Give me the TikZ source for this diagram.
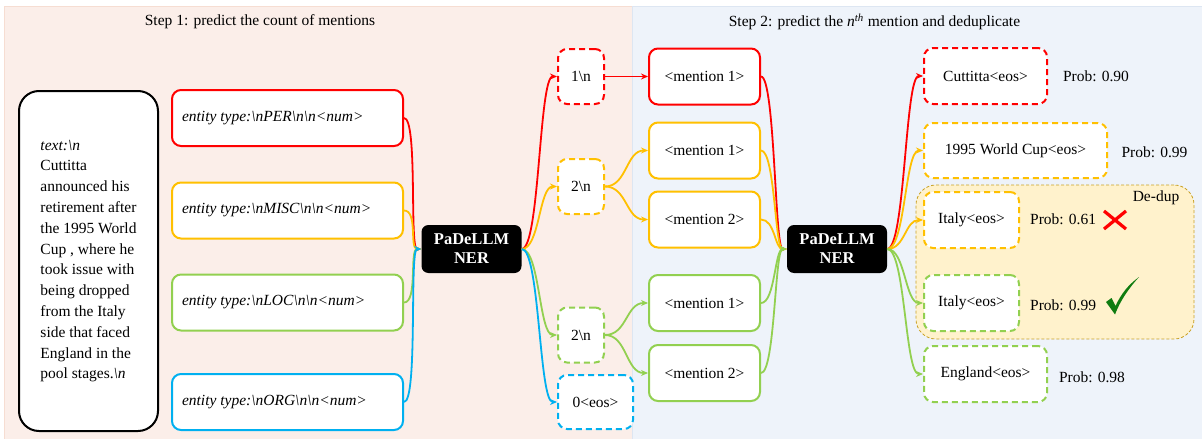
\documentclass[tikz,border=0pt]{standalone}
\usepackage{fontspec}
\setmainfont{Liberation Serif}
\usetikzlibrary{arrows.meta}
\definecolor{cred}{HTML}{FF0000}
\definecolor{corange}{HTML}{FFC000}
\definecolor{cgreen}{HTML}{92D050}
\definecolor{cblue}{HTML}{00B0F0}
\definecolor{peach}{HTML}{FBEEE9}
\definecolor{peachline}{HTML}{F6DDD2}
\definecolor{paleblue}{HTML}{EEF3FA}
\definecolor{paleblueline}{HTML}{DDE6F2}
\definecolor{dedupfill}{HTML}{FFF2CC}
\definecolor{dedupline}{HTML}{C9A227}
\definecolor{okgreen}{HTML}{107C10}
\newcommand{\bsn}{\textbackslash n}
\begin{document}
\begin{tikzpicture}[x=1pt,y=-1pt,
  font=\fontsize{15.5}{20.8}\selectfont,
  sz/.style 2 args={minimum width=#1, minimum height=#2},
  box/.style={draw, line width=2pt, rounded corners=9pt, fill=white, inner sep=0pt},
  dbox/.style={box, dash pattern=on 6pt off 4pt},
  entity/.style={box, sz={231pt}{56pt}},
  mention/.style={box, sz={111pt}{56pt}},
  llm/.style={fill=black, rounded corners=7pt, text=white, inner sep=0pt,
    font=\fontsize{16.5}{19}\selectfont\bfseries, align=center, sz={100pt}{48pt}},
  dedup/.style={draw=dedupline, fill=dedupfill, line width=0.8pt, dash pattern=on 3pt off 2pt,
    rounded corners=20pt, inner sep=0pt},
  lbl/.style={inner sep=0pt},
  conn/.style={line width=1.8pt, -{Stealth[length=7pt,width=6pt]}},
  s15/.style={out=0, in=180, out distance=14pt, in distance=12pt},
  s20/.style={out=0, in=180, out distance=18pt, in distance=18pt},
  s22/.style={out=0, in=180, out distance=22pt, in distance=22pt}]
\useasboundingbox (0,0) rectangle (1202,439);
% panels
\fill[peach, draw=peachline, line width=1pt] (4.5,6) rectangle (632,440);
\fill[paleblue, draw=paleblueline, line width=1pt] (632,6) rectangle (1203,440);
\node[lbl] (t1) at (260,22) {Step 1: predict the count of mentions};
\node[lbl] (t2) at (874.5,22) {Step 2: predict the \textit{n}\textsuperscript{\textit{th}} mention and deduplicate};
% input text
\node[box, draw=black, rounded corners=20pt, sz={139pt}{340pt}, align=left] (txt) at (88.5,261)
  {\textit{text:\bsn}\\Cuttitta\\announced his\\retirement after\\the 1995 World\\Cup , where he\\took issue with\\being dropped\\from the Italy\\side that faced\\England in the\\pool stages.\textit{\bsn}};
% entity prompts
\node[entity, draw=cred] (e1) at (287.5,118) {\makebox[211pt][l]{\textit{entity type:\bsn PER\bsn\bsn<num>}}};
\node[entity, draw=corange] (e2) at (287.5,210.5) {\makebox[211pt][l]{\textit{entity type:\bsn MISC\bsn\bsn<num>}}};
\node[entity, draw=cgreen] (e3) at (287.5,302.5) {\makebox[211pt][l]{\textit{entity type:\bsn LOC\bsn\bsn<num>}}};
\node[entity, draw=cblue] (e4) at (287.5,402) {\makebox[211pt][l]{\textit{entity type:\bsn ORG\bsn\bsn<num>}}};
\node[llm] (p1) at (471.5,249) {PaDeLLM\\NER};
% counts
\node[dbox, draw=cred, sz={46pt}{55pt}] (c1) at (581,76.5) {1\bsn};
\node[dbox, draw=corange, sz={46pt}{55pt}] (c2) at (581,186.5) {2\bsn};
\node[dbox, draw=cgreen, sz={46pt}{55pt}] (c3) at (581,335) {2\bsn};
\node[dbox, draw=cblue, sz={75pt}{54pt}] (c4) at (595.5,402) {0<eos>};
% mentions
\node[mention, draw=cred] (m1) at (704.5,76.5) {<mention 1>};
\node[mention, draw=corange] (m2) at (704.5,150.5) {<mention 1>};
\node[mention, draw=corange] (m3) at (704.5,219.5) {<mention 2>};
\node[mention, draw=cgreen] (m4) at (704.5,303) {<mention 1>};
\node[mention, draw=cgreen] (m5) at (704.5,373) {<mention 2>};
\node[llm] (p2) at (837,249) {PaDeLLM\\NER};
% de-dup region
\node[dedup, sz={278pt}{154pt}] (dd) at (1055,262) {};
\node[lbl] (ddl) at (1156,198) {De-dup};
% outputs
\node[dbox, draw=cred, sz={123pt}{56pt}] (o1) at (985.5,76) {Cuttitta<eos>};
\node[dbox, draw=corange, sz={183pt}{55pt}] (o2) at (1015.5,150.5) {1995 World Cup<eos>};
\node[dbox, draw=corange, sz={95pt}{56pt}] (o3) at (971.5,220) {Italy<eos>};
\node[dbox, draw=cgreen, sz={95pt}{56pt}] (o4) at (971.5,303) {Italy<eos>};
\node[dbox, draw=cgreen, sz={123pt}{56pt}] (o5) at (985.5,374) {England<eos>};
\node[lbl] (pr1) at (1096,76) {Prob: 0.90};
\node[lbl] (pr2) at (1154.5,152) {Prob: 0.99};
\node[lbl, anchor=west] (pr3) at (1030,219) {Prob: 0.61};
\node[lbl, anchor=west] (pr4) at (1030,305) {Prob: 0.99};
\node[lbl] (pr5) at (1092,377) {Prob: 0.98};
% cross and tick
\draw[cred, line width=3.2pt] (1104,211) -- (1126,229) (1126,211) -- (1104,229);
\fill[okgreen] (1106,302) -- (1111.5,298) -- (1115.5,306)
  .. controls (1121,294) and (1128,285) .. (1139,277)
  .. controls (1129,288) and (1120,301) .. (1115,314.5) -- cycle;
% connectors step 1
\draw[conn, cred] (e1.east) to[s15] (p1.west);
\draw[conn, corange] (e2.east) to[s15] (p1.west);
\draw[conn, cgreen] (e3.east) to[s15] (p1.west);
\draw[conn, cblue] (e4.east) to[s15] (p1.west);
\draw[conn, cred] (p1.east) to[s20] (c1.west);
\draw[conn, corange] (p1.east) to[s20] (c2.west);
\draw[conn, cgreen] (p1.east) to[s20] (c3.west);
\draw[conn, cblue] (p1.east) to[s20] (c4.west);
% connectors step 2
\draw[conn, cred] (c1.east) -- (m1.west);
\draw[conn, corange] (c2.east) to[s22] (m2.west);
\draw[conn, corange] (c2.east) to[s22] (m3.west);
\draw[conn, cgreen] (c3.east) to[s22] (m4.west);
\draw[conn, cgreen] (c3.east) to[s22] (m5.west);
\draw[conn, cred] (m1.east) to[s15] (p2.west);
\draw[conn, corange] (m2.east) to[s15] (p2.west);
\draw[conn, corange] (m3.east) to[s15] (p2.west);
\draw[conn, cgreen] (m4.east) to[s15] (p2.west);
\draw[conn, cgreen] (m5.east) to[s15] (p2.west);
\draw[conn, cred] (p2.east) to[s20] (o1.west);
\draw[conn, corange] (p2.east) to[s20] (o2.west);
\draw[conn, corange] (p2.east) to[s20] (o3.west);
\draw[conn, cgreen] (p2.east) to[s20] (o4.west);
\draw[conn, cgreen] (p2.east) to[s20] (o5.west);
\end{tikzpicture}
\end{document}
